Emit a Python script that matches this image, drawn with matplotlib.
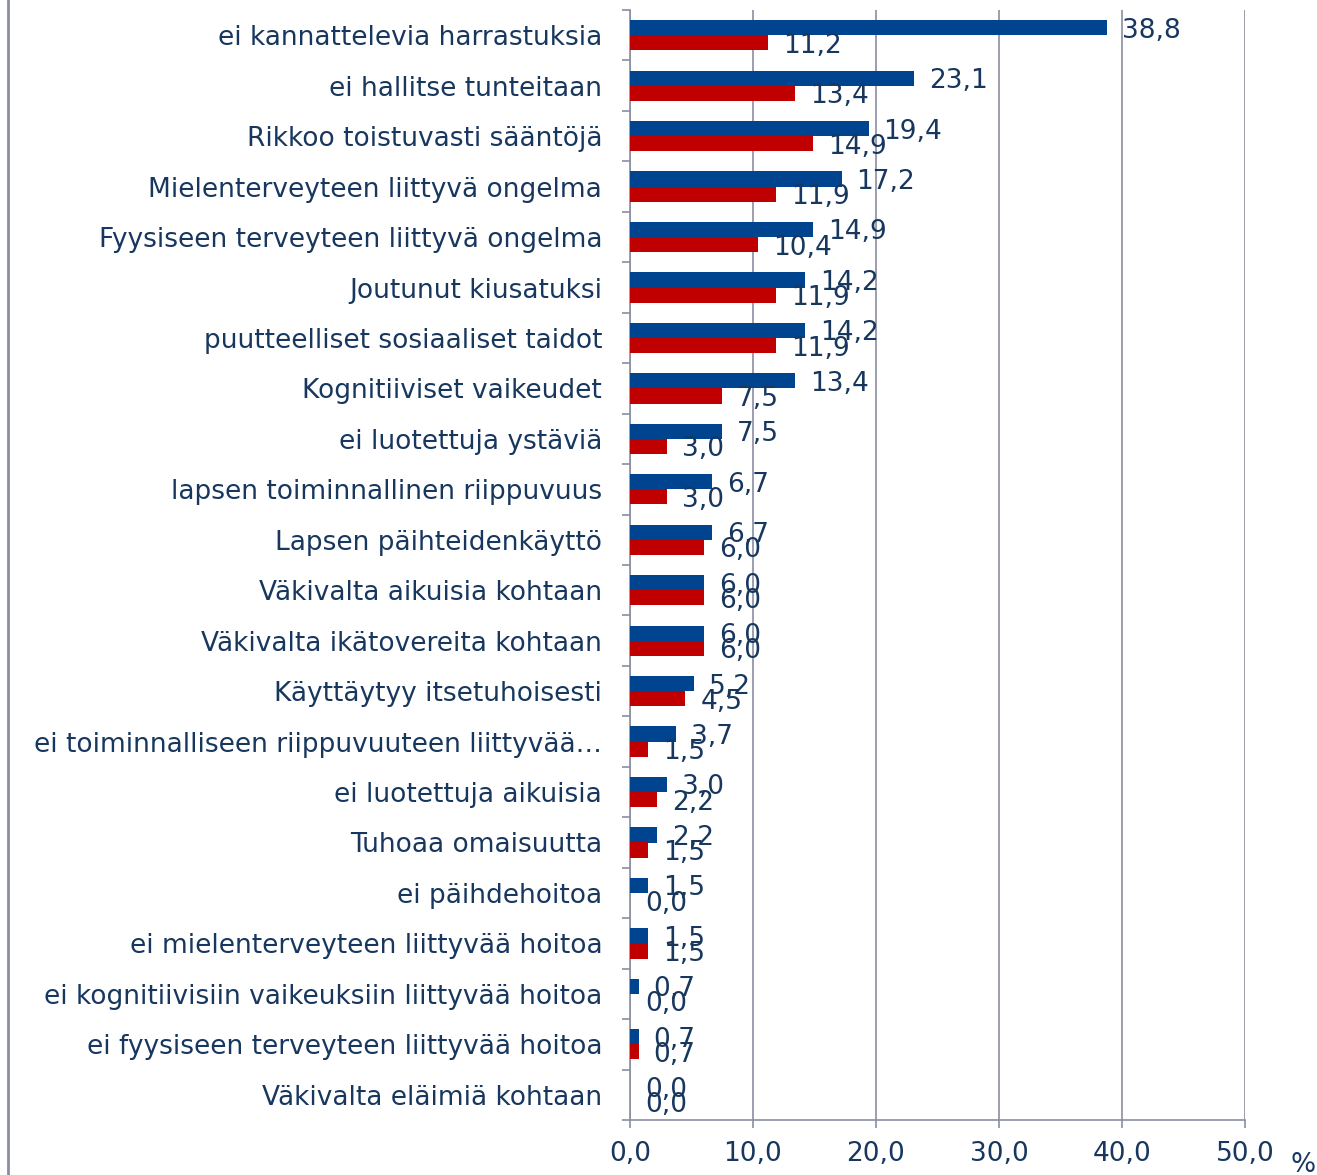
import matplotlib
matplotlib.use("Agg")
import matplotlib.pyplot as plt
from matplotlib.lines import Line2D
import numpy as np

categories = [
    "ei kannattelevia harrastuksia",
    "ei hallitse tunteitaan",
    "Rikkoo toistuvasti sääntöjä",
    "Mielenterveyteen liittyvä ongelma",
    "Fyysiseen terveyteen liittyvä ongelma",
    "Joutunut kiusatuksi",
    "puutteelliset sosiaaliset taidot",
    "Kognitiiviset vaikeudet",
    "ei luotettuja ystäviä",
    "lapsen toiminnallinen riippuvuus",
    "Lapsen päihteidenkäyttö",
    "Väkivalta aikuisia kohtaan",
    "Väkivalta ikätovereita kohtaan",
    "Käyttäytyy itsetuhoisesti",
    "ei toiminnalliseen riippuvuuteen liittyvää…",
    "ei luotettuja aikuisia",
    "Tuhoaa omaisuutta",
    "ei päihdehoitoa",
    "ei mielenterveyteen liittyvää hoitoa",
    "ei kognitiivisiin vaikeuksiin liittyvää hoitoa",
    "ei fyysiseen terveyteen liittyvää hoitoa",
    "Väkivalta eläimiä kohtaan",
]
blue_values = [38.8, 23.1, 19.4, 17.2, 14.9, 14.2, 14.2, 13.4, 7.5, 6.7, 6.7,
               6.0, 6.0, 5.2, 3.7, 3.0, 2.2, 1.5, 1.5, 0.7, 0.7, 0.0]
red_values = [11.2, 13.4, 14.9, 11.9, 10.4, 11.9, 11.9, 7.5, 3.0, 3.0, 6.0,
              6.0, 6.0, 4.5, 1.5, 2.2, 1.5, 0.0, 1.5, 0.0, 0.7, 0.0]
x_ticks = [0, 10, 20, 30, 40, 50]

BLUE = "#00438F"
RED = "#C00000"
TXT = "#17375E"
GRID = "#8A8EA2"
FS = 19

def fmt(v):
    return f"{v:.1f}".replace(".", ",")

fig = plt.figure(figsize=(13.17, 11.75), dpi=100)
ax = fig.add_axes([630/1317, 1 - 1120/1175, (1245-630)/1317, (1120-10)/1175])

n = len(categories)
y = np.arange(n)
h = 0.3
ax.barh(y - h/2, blue_values, height=h, color=BLUE, zorder=3)
ax.barh(y + h/2, red_values, height=h, color=RED, zorder=3)

ax.set_ylim(n - 0.5, -0.5)
ax.set_xlim(0, 50)

for yi, bv, rv in zip(y, blue_values, red_values):
    ax.annotate(fmt(bv), (bv, yi - h/2), xytext=(15, -3), textcoords="offset pixels",
                ha="left", va="center", fontsize=FS, color=TXT, zorder=4)
    ax.annotate(fmt(rv), (rv, yi + h/2), xytext=(15, -3), textcoords="offset pixels",
                ha="left", va="center", fontsize=FS, color=TXT, zorder=4)

ax.set_xticks(x_ticks)
ax.set_xticklabels([fmt(t) for t in x_ticks], fontsize=FS, color=TXT)
ax.set_yticks(y)
ax.set_yticklabels(categories, fontsize=FS, color=TXT)
ax.tick_params(axis="y", length=0, pad=20)
ax.set_yticks(np.arange(n + 1) - 0.5, minor=True)
ax.tick_params(axis="y", which="minor", length=6, color=GRID, width=1.2)
ax.tick_params(axis="x", length=6, color=GRID, width=1.2, pad=9)

ax.grid(axis="x", color=GRID, linewidth=1.2, zorder=0)
for s in ["top", "right"]:
    ax.spines[s].set_visible(False)
for s in ["left", "bottom"]:
    ax.spines[s].set_color(GRID)
    ax.spines[s].set_linewidth(1.2)

fig.text(1303/1317, 1 - 1165/1175, "%", fontsize=FS, color=TXT, ha="center", va="center")
fig.add_artist(Line2D([8/1317, 8/1317], [0, 1], color=GRID, linewidth=2, transform=fig.transFigure))

fig.savefig("out.png", dpi=100)
